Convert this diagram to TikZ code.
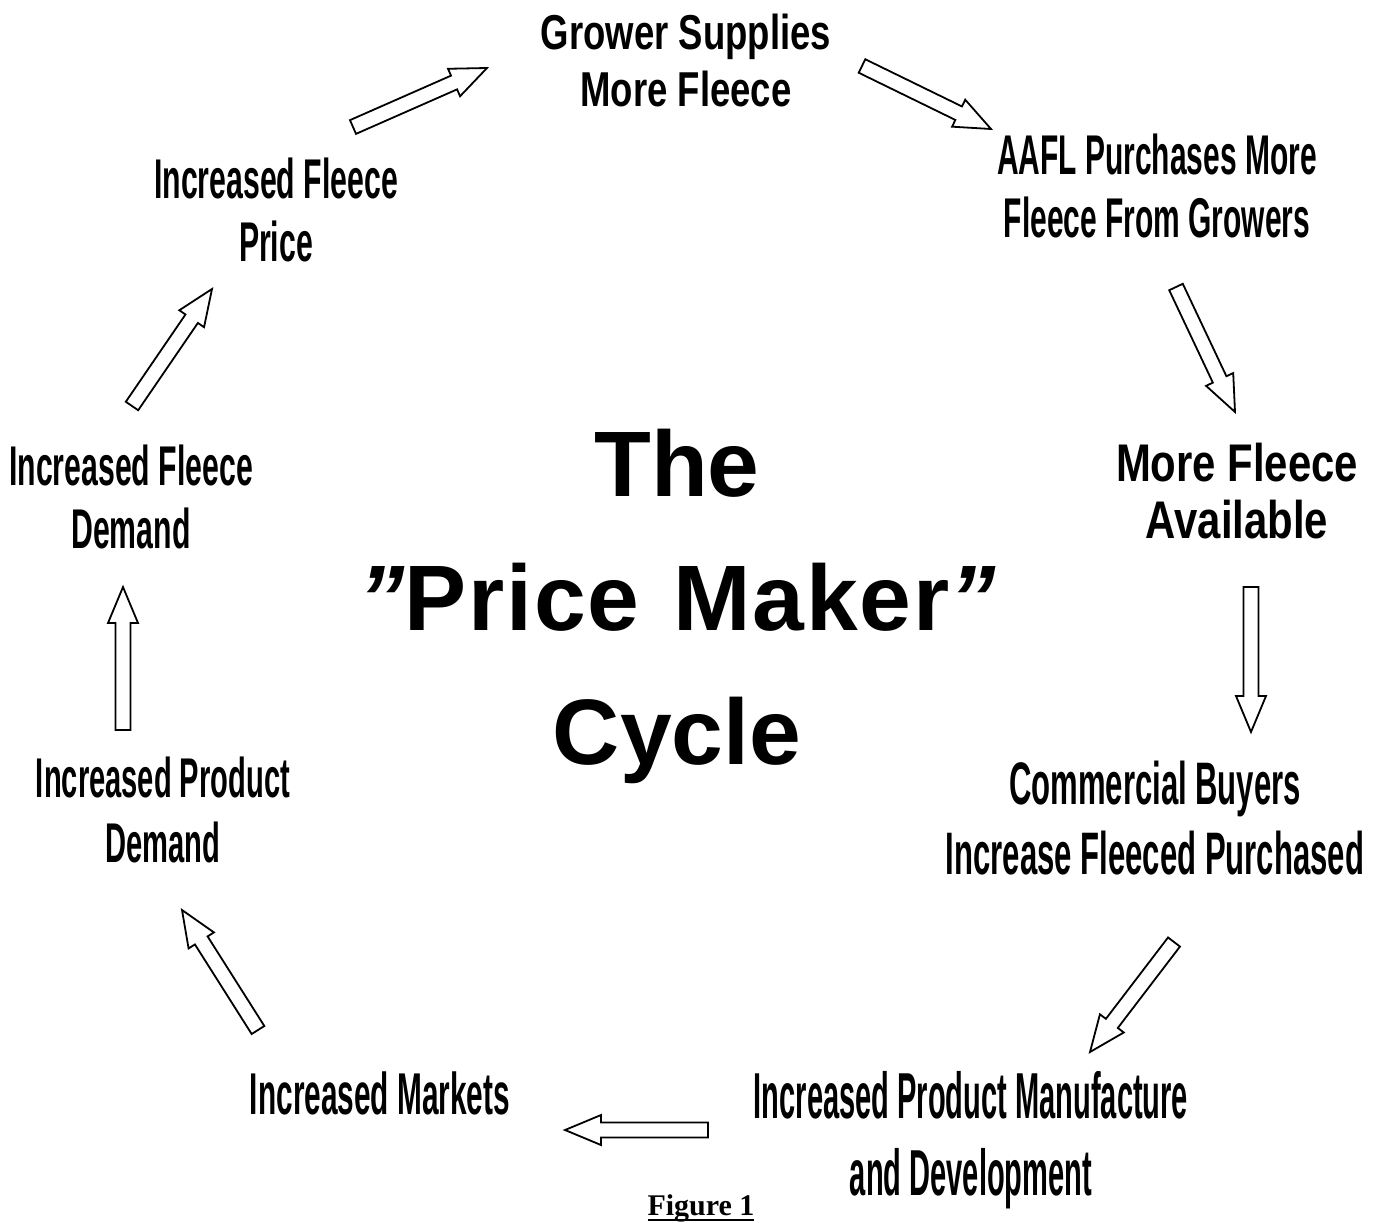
\documentclass[tikz,border=0pt]{standalone}
\usepackage{fontspec}
\usepackage{graphicx}
\setmainfont{Liberation Sans}
\newfontfamily\figfont{Liberation Serif}
\usetikzlibrary{calc}
\newcommand{\condlabel}[4]{\scalebox{#1}[1]{\fontsize{#2}{#3}\selectfont\bfseries\begin{tabular}{@{}c@{}}#4\end{tabular}}}
\newcommand{\slq}{{\itshape\char"22}}
\newcommand{\blockarrow}[2]{%
  \path ($(#2)!36pt!(#1)$) coordinate (ba-h);
  \draw[blockarr] ($(#1)!7.5pt!90:(#2)$) -- ($(ba-h)!7.5pt!90:(#2)$) -- ($(ba-h)!15pt!90:(#2)$) -- (#2) -- ($(ba-h)!15pt!-90:(#2)$) -- ($(ba-h)!7.5pt!-90:(#2)$) -- ($(#1)!7.5pt!-90:(#2)$) -- cycle;}
\begin{document}
\begin{tikzpicture}[x=1pt,y=-1pt,
  blockarr/.style={draw=black, fill=white, line width=1.8pt, line join=miter},
  lbl/.style={inner sep=0pt, outer sep=0pt, anchor=center}]
\useasboundingbox[fill=white] (0,0) rectangle (1381,1223);
% labels
\node[lbl] (grower) at (686,67) {\condlabel{0.745}{49}{57}{Grower Supplies\\More Fleece}};
\node[lbl] (aafl) at (1157,193) {\condlabel{0.535}{56}{63}{AAFL Purchases More\\Fleece From Growers}};
\node[lbl] (avail) at (1237,499) {\condlabel{0.79}{53}{57}{More Fleece\\Available}};
\node[lbl] (comm) at (1155,825) {\condlabel{0.518}{60}{70}{Commercial Buyers\\Increase Fleeced Purchased}};
\node[lbl] (manu) at (971,1142) {\condlabel{0.447}{65}{77}{Increased Product Manufacture\\and Development}};
\node[lbl] (markets) at (380,1102) {\condlabel{0.505}{59}{63}{Increased Markets}};
\node[lbl] (proddem) at (163,817) {\condlabel{0.52}{56}{65}{Increased Product\\Demand}};
\node[lbl] (fleecedem) at (131,504) {\condlabel{0.54}{56}{63}{Increased Fleece\\Demand}};
\node[lbl] (price) at (276,217) {\condlabel{0.54}{56}{63}{Increased Fleece\\Price}};
\node[lbl, align=center, font=\fontsize{93}{134}\selectfont\bfseries] (title) at (677,606) {The\\{\addfontfeature{LetterSpace=2}\slq Price\hspace{6pt} Maker\slq}\\Cycle};
\node[lbl, anchor=base, font=\fontsize{30}{34}\selectfont\figfont\bfseries] (fig) at (701,1215) {Figure 1};
\draw[line width=2pt] ($(fig.base west)+(0,4.5)$) -- ($(fig.base east)+(0,4.5)$);
% arrow end points
\coordinate (a1s) at (353,127); \coordinate (a1e) at (487,68);
\coordinate (a2s) at (862,66);  \coordinate (a2e) at (991,129);
\coordinate (a3s) at (1176,287); \coordinate (a3e) at (1235,412);
\coordinate (a4s) at (1251,587); \coordinate (a4e) at (1251,732);
\coordinate (a5s) at (1174,942); \coordinate (a5e) at (1090,1052);
\coordinate (a6s) at (708,1130); \coordinate (a6e) at (565,1130);
\coordinate (a7s) at (258,1030); \coordinate (a7e) at (182,910);
\coordinate (a8s) at (123,730); \coordinate (a8e) at (123,587);
\coordinate (a9s) at (132,406); \coordinate (a9e) at (212,289);
\blockarrow{a1s}{a1e}
\blockarrow{a2s}{a2e}
\blockarrow{a3s}{a3e}
\blockarrow{a4s}{a4e}
\blockarrow{a5s}{a5e}
\blockarrow{a6s}{a6e}
\blockarrow{a7s}{a7e}
\blockarrow{a8s}{a8e}
\blockarrow{a9s}{a9e}
\end{tikzpicture}
\end{document}
